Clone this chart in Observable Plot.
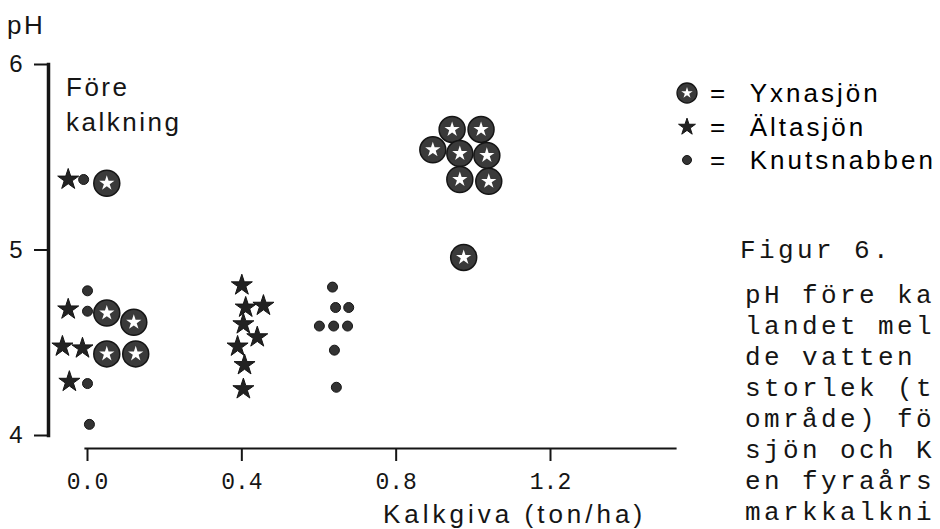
<!DOCTYPE html>
<html>
<head>
<meta charset="utf-8">
<script src="https://cdn.jsdelivr.net/npm/d3@7"></script>
<script src="https://cdn.jsdelivr.net/npm/@observablehq/plot@0.6"></script>
<style>
  body { margin: 0; background: #fff; }
  #wrap { position: relative; width: 940px; height: 529px; overflow: hidden; background: #fff; }
  #chart { position: absolute; left: 0; top: 0; }
  .t { position: absolute; white-space: nowrap; color: #151515; }
  .sans { font-family: "Liberation Sans", Arial, sans-serif; font-size: 26px; letter-spacing: 2.5px; }
  .mono { font-family: "Liberation Mono", monospace; font-size: 26px; letter-spacing: 3.4px; }
  .leg { position: absolute; left: 672px; display: flex; align-items: center; height: 30px; }
  .leg svg { overflow: visible; }
</style>
</head>
<body>
<div id="wrap">
  <div id="chart"></div>
  <div class="t sans" style="left:7px; top:10px; line-height:30px;">pH</div>
  <div class="t sans" style="left:66px; top:70px; line-height:35px;">Före<br>kalkning</div>
  <div class="t sans" style="left:383px; top:502px; line-height:24px; letter-spacing:4px;">Kalkgiva (ton/ha)</div>
  <div id="legend"></div>
  <div id="caption"></div>
</div>
<script>
// pH before and after liming, three lakes
// x: lime dose (ton/ha); points before liming are spread around 0
const yxnaX = [0.05, 0.05, 0.12, 0.05, 0.125, 0.945, 1.02, 0.895, 0.965, 1.035, 0.965, 1.04, 0.975];
const yxnaY = [5.36, 4.66, 4.61, 4.44, 4.44, 5.65, 5.65, 5.54, 5.52, 5.51, 5.38, 5.37, 4.96];

const altaX = [-0.05, -0.05, -0.065, -0.013, -0.047, 0.40, 0.41, 0.456, 0.404, 0.44, 0.389, 0.407, 0.404];
const altaY = [5.38, 4.68, 4.48, 4.47, 4.29, 4.81, 4.69, 4.70, 4.60, 4.53, 4.48, 4.38, 4.25];

const knutX = [-0.01, 0, 0, 0, 0.005, 0.635, 0.643, 0.677, 0.601, 0.638, 0.674, 0.64, 0.645];
const knutY = [5.38, 4.78, 4.67, 4.28, 4.06, 4.80, 4.69, 4.69, 4.59, 4.59, 4.59, 4.46, 4.26];

const xTicks = [0, 0.4, 0.8, 1.2];
const yTicks = [4, 5, 6];

const lakes = ["Yxnasjön", "Ältasjön", "Knutsnabben"];
const captionTitle = "Figur 6.";
const captionLines = ["pH före ka", "landet mel", "de vatten", "storlek (t", "område) fö", "sjön och K", "en fyraårs", "markkalkni"];

const toRows = (xs, ys) => xs.map((x, i) => ({x, y: ys[i]}));
const yxna = toRows(yxnaX, yxnaY);
const alta = toRows(altaX, altaY);
const knut = toRows(knutX, knutY);

const ink = "#151515";
const ringFill = "#3a3a3a";

const chart = Plot.plot({
  width: 940,
  height: 529,
  marginLeft: 48,
  marginTop: 64,
  marginBottom: 81,
  marginRight: 265,
  style: {background: "transparent", color: ink, fontFamily: "Liberation Sans, Arial, sans-serif"},
  x: {domain: [0, 1.2], range: [87, 550]},
  y: {domain: [4, 6], range: [435, 64]},
  marks: [
    Plot.frame({anchor: "left", insetBottom: 13, stroke: ink, strokeWidth: 3.5}),
    Plot.frame({anchor: "bottom", insetLeft: 37, stroke: ink, strokeWidth: 2.2}),
    Plot.axisY({ticks: yTicks, tickSize: 14, tickPadding: 12, tickFormat: d => String(d),
      fontSize: 24, strokeWidth: 2, label: null}),
    Plot.axisX({ticks: xTicks, tickSize: 13, tickPadding: 11, tickFormat: d => d.toFixed(1),
      fontSize: 23, fontFamily: "Liberation Mono, monospace", strokeWidth: 2, label: null}),
    Plot.dot(knut, {x: "x", y: "y", r: 5, fill: "#333", stroke: ink, strokeWidth: 1}),
    Plot.dot(alta, {x: "x", y: "y", symbol: "star", r: 6.6, fill: "#222", stroke: ink, strokeWidth: 1}),
    Plot.dot(yxna, {x: "x", y: "y", r: 13, fill: ringFill, stroke: ink, strokeWidth: 1.5}),
    Plot.dot(yxna, {x: "x", y: "y", symbol: "star", r: 4.8, fill: "#fff", stroke: "none"})
  ]
});
document.getElementById("chart").appendChild(chart);

// legend: symbol, "=", lake name
const legend = d3.select("#legend");
const legendTop = [78, 112, 145];
const legendSymbols = [
  g => {
    g.append("circle").attr("r", 10).attr("fill", ringFill).attr("stroke", ink).attr("stroke-width", 1.3);
    g.append("path").attr("d", d3.symbol(d3.symbolStar, Math.PI * 3.6 * 3.6)()).attr("fill", "#fff");
  },
  g => g.append("path").attr("d", d3.symbol(d3.symbolStar, Math.PI * 5.3 * 5.3)()).attr("fill", "#222").attr("stroke", ink),
  g => g.append("circle").attr("r", 4.5).attr("fill", "#333").attr("stroke", ink)
];
lakes.forEach((name, i) => {
  const row = legend.append("div").attr("class", "leg").style("top", legendTop[i] + "px");
  const svg = row.append("svg").attr("width", 30).attr("height", 30);
  legendSymbols[i](svg.append("g").attr("transform", "translate(15,15)"));
  row.append("span").attr("class", "sans").style("margin-left", "8px").text("=");
  row.append("span").attr("class", "sans").style("margin-left", "22px").style("letter-spacing", "3px").text(name);
});

// figure caption
const cap = d3.select("#caption");
cap.append("div").attr("class", "t mono").style("left", "740px").style("top", "236px").style("line-height", "30px").text(captionTitle);
cap.append("div").attr("class", "t mono").style("left", "745px").style("top", "281px").style("line-height", "31px")
  .html(captionLines.join("<br>"));
</script>
</body>
</html>
